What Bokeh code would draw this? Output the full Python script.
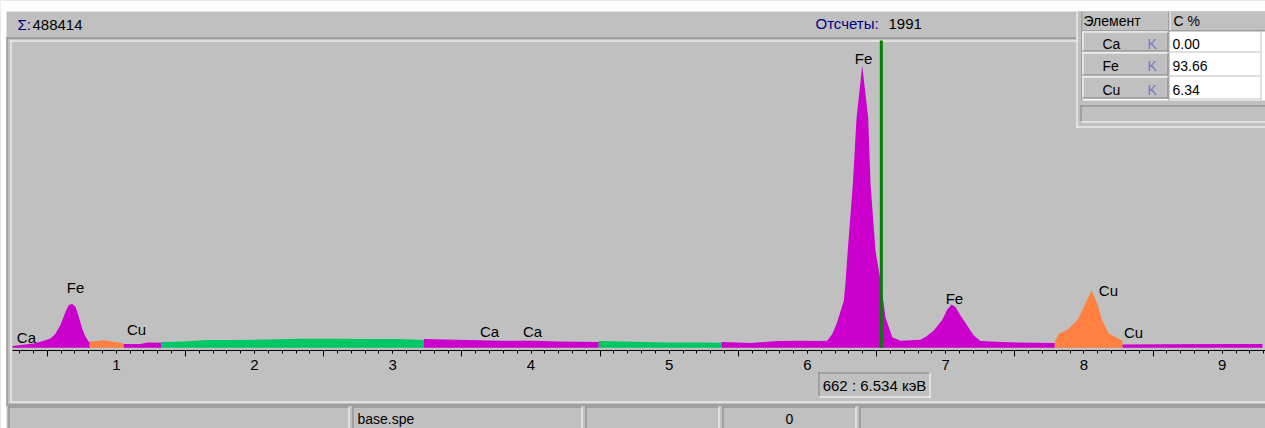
from bokeh.plotting import figure
from bokeh.models import Range1d, LinearAxis, FixedTicker
from bokeh.core.properties import value
from bokeh.embed import file_html
from bokeh.resources import INLINE

# ---------------- data ----------------
energy_keV = [
    0.250, 0.403, 0.476, 0.524, 0.560, 0.596, 0.633, 0.656, 0.681, 0.705, 0.729, 0.753, 0.777, 0.801, 0.808,
    0.808, 0.813, 0.886, 0.910, 0.958, 1.030, 1.054,
    1.054, 1.175, 1.224, 1.325,
    1.325, 1.488, 1.657, 1.850, 2.092, 2.332, 2.573, 2.815, 3.056, 3.225,
    3.225, 3.538, 3.779, 4.020, 4.189, 4.490,
    4.490, 4.744, 4.985, 5.226, 5.378,
    5.378, 5.588, 5.781, 5.949, 6.094, 6.143, 6.179, 6.210, 6.263, 6.274,
    6.291, 6.328, 6.355, 6.396, 6.439, 6.456, 6.492, 6.528, 6.564, 6.613,
    6.673, 6.817, 6.854, 6.914, 6.974, 7.010, 7.042, 7.070, 7.107, 7.155,
    7.203, 7.251, 7.396, 7.637, 7.789,
    7.789, 7.818, 7.879, 7.951, 8.011, 8.054, 8.096, 8.132, 8.180, 8.228, 8.279,
    8.279, 8.602, 9.084, 9.291,
]
counts = [
    50, 128, 208, 276, 416, 674, 1069, 1268, 1298, 1218, 921, 573, 327, 178, 170,
    178, 185, 208, 229, 187, 149, 128,
    110, 110, 157, 149,
    169, 187, 229, 229, 247, 267, 267, 258, 258, 230,
    258, 229, 208, 208, 187, 169,
    199, 178, 157, 157, 149,
    169, 140, 199, 208, 199, 208, 407, 704, 1396, 1892,
    2881, 4862, 6840, 8375, 6840, 4862, 2881, 1999, 909, 315,
    208, 238, 318, 514, 823, 1129, 1286, 1209, 959, 662,
    365, 199, 169, 149, 140,
    169, 416, 535, 811, 1316, 1702, 1316, 811, 416, 318, 199,
    98, 104, 110, 110,
]
region = (["FeCa"] * 15 + ["Cu"] * 7 + ["FeCa"] * 4 + ["bg"] * 10 + ["FeCa"] * 6
          + ["bg"] * 5 + ["FeCa"] * 35 + ["Cu"] * 11 + ["FeCa"] * 4)

peak_labels = ["Ca", "Fe", "Cu", "Ca", "Ca", "Fe", "Fe", "Cu", "Cu"]
peak_label_keV = [0.350, 0.705, 1.146, 3.700, 4.011, 6.405, 7.063, 8.177, 8.358]
peak_label_counts = [306, 1791, 544, 484, 484, 8592, 1464, 1702, 454]

x_ticks = [1, 2, 3, 4, 5, 6, 7, 8, 9]
x_half_ticks = [0.5, 1.5, 2.5, 3.5, 4.5, 5.5, 6.5, 7.5, 8.5]

total_counts = "488414"
cursor_channel = 662
cursor_keV = 6.534
cursor_counts = "1991"

table_elements = ["Ca", "Fe", "Cu"]
table_lines = ["K", "K", "K"]
table_conc = ["0.00", "93.66", "6.34"]

status_file = "base.spe"
status_value = "0"

# ---------------- layout / style ----------------
W, H = 1265, 428
FONT = "Liberation Sans"
GRAY = "#C0C0C0"
DARK = "#808080"
NAVY = "#000080"
COLORS = {"FeCa": "#CC00CC", "Cu": "#FF8040", "bg": "#00C864"}

PX_PER_KEV = 138.24
X0_PX = -22.44            # px of 0 keV
Y_ZERO = 347.3            # px (from top) of zero counts
CNT_PER_PX = 29.7
AXIS_Y = 349.5

kev_lo = -X0_PX / PX_PER_KEV
kev_hi = (W - X0_PX) / PX_PER_KEV
cnt_lo = -(H - Y_ZERO) * CNT_PER_PX
cnt_hi = Y_ZERO * CNT_PER_PX
axis_cnt = -(AXIS_Y - Y_ZERO) * CNT_PER_PX
panel_top_cnt = (Y_ZERO - 40) * CNT_PER_PX

p = figure(width=W, height=H, output_backend="svg", toolbar_location=None,
           x_axis_type=None, y_axis_type=None, min_border=0,
           x_range=Range1d(kev_lo, kev_hi), y_range=Range1d(cnt_lo, cnt_hi))
p.min_border_left = p.min_border_right = p.min_border_top = p.min_border_bottom = 0
p.background_fill_color = GRAY
p.border_fill_color = GRAY
p.outline_line_color = None
p.extra_x_ranges = {"px": Range1d(0, W)}
p.extra_y_ranges = {"px": Range1d(H, 0)}


def box(l, t, r, b, color):
    p.quad(left=[l], right=[r], top=[t], bottom=[b], fill_color=color,
           line_color=None, x_range_name="px", y_range_name="px")


def txt(x, y, s, color="black", align="left", size="15px"):
    p.text(x=[x], y=[y], text=[s], x_range_name="px", y_range_name="px",
           text_font=value(FONT), text_font_size=value(size), text_color=color,
           text_align=align, text_baseline="middle")


def sunken(l, t, r, b):
    box(l, t, r, t + 1, DARK)
    box(l, t, l + 1, b, DARK)
    box(l, b - 1, r, b, "white")
    box(r - 1, t, r, b, "white")


# window chrome
box(0, 0, W, 11, "white")
box(0, 0, 6, H, "white")
txt(17, 24, "\u03a3:", NAVY)
txt(32, 24, total_counts)
txt(815, 23, "\u041e\u0442\u0441\u0447\u0435\u0442\u044b:", NAVY)
txt(888, 23, cursor_counts)

# chart panel edges
box(6, 37, 1076, 38, DARK)
box(6, 37, 7, 405, DARK)
box(10, 40, 1076, 41, "white")
box(10, 40, 11, 402, "white")
box(10, 401, W, 402, "white")
box(6, 404, W, 405, DARK)

# status bar
for l, r in [(8, 349), (352, 582), (585, 719), (722, 856), (859, W + 1)]:
    box(l, 406, r, 407, DARK)
    box(l, 406, l + 1, H, DARK)
    box(r - 1, 406, r, H, "white")
txt(357, 418, status_file, size="14px")
txt(789, 418, status_value, align="center", size="14px")

# cursor readout box
sunken(818, 372, 930, 397)
txt(874, 384.5, "%d : %.3f \u043a\u044d\u0412" % (cursor_channel, cursor_keV), align="center")

# spectrum, coloured by region
start = 0
for i in range(1, len(region) + 1):
    if i == len(region) or region[i] != region[start]:
        seg = slice(start, i)
        p.varea(x=energy_keV[seg], y1=[0] * (i - start), y2=counts[seg],
                fill_color=COLORS[region[start]])
        start = i

# peak labels
p.text(x=peak_label_keV, y=peak_label_counts, text=peak_labels,
       text_font=value(FONT), text_font_size=value("15px"), text_color="black",
       text_align="center", text_baseline="middle")

# cursor
p.segment(x0=[cursor_keV], y0=[0], x1=[cursor_keV], y1=[panel_top_cnt],
          line_color="#008000", line_width=3)

# energy axis
ax = LinearAxis(fixed_location=axis_cnt,
                ticker=FixedTicker(ticks=x_ticks,
                                   minor_ticks=[round(0.3 + 0.1 * k, 1) for k in range(91)]),
                bounds=(0.25, 9.31))
ax.axis_line_color = "black"
ax.major_tick_line_color = "black"
ax.minor_tick_line_color = "black"
ax.major_tick_out = 3
ax.major_tick_in = 0
ax.minor_tick_out = 3
ax.minor_tick_in = 0
ax.major_label_standoff = 7
ax.major_label_text_font = FONT
ax.major_label_text_font_size = "15px"
ax.major_label_text_color = "black"
p.add_layout(ax, "below")

ax2 = LinearAxis(fixed_location=axis_cnt,
                 ticker=FixedTicker(ticks=x_half_ticks, minor_ticks=[]),
                 bounds=(0.25, 9.31))
ax2.axis_line_color = None
ax2.major_tick_line_color = "black"
ax2.major_tick_out = 6
ax2.major_tick_in = 0
ax2.minor_tick_out = 0
ax2.minor_tick_in = 0
ax2.major_label_text_color = None
p.add_layout(ax2, "below")

# element table (top right)
box(1076, 11, W, 127, GRAY)
box(1076, 11, 1077, 127, "white")
box(1076, 126, W, 127, "white")
box(1081, 11, 1082, 100, DARK)
box(1082, 11, W, 30, GRAY)
box(1082, 30, W, 31, DARK)
box(1168, 11, 1169, 100, DARK)
box(1169, 11, 1170, 30, "white")
txt(1083, 20, "\u042d\u043b\u0435\u043c\u0435\u043d\u0442", size="14px")
txt(1173, 20, "C %", size="14px")
box(1082, 31, 1168, 100, "white")
box(1169, 31, W, 100, "white")
rows = [(31, 51), (52, 75), (76, 98)]
for k, (t, b) in enumerate(rows):
    box(1082, t, 1168, b, GRAY)
    box(1082, t, 1168, t + 1, "white")
    box(1082, t, 1083, b, "white")
    box(1082, b - 1, 1168, b, DARK)
    box(1167, t, 1168, b, DARK)
    box(1169, b, 1260, b + 1, GRAY)
    yc = (t + b) / 2 + 2
    txt(1102, yc, table_elements[k], size="14px")
    txt(1147, yc, table_lines[k], color="#7878C8", size="14px")
    txt(1172, yc, table_conc[k], size="14px")
box(1260, 31, 1261, 100, GRAY)
sunken(1080, 105, W + 1, 122)

open("out.html", "w").write(file_html(p, INLINE))
